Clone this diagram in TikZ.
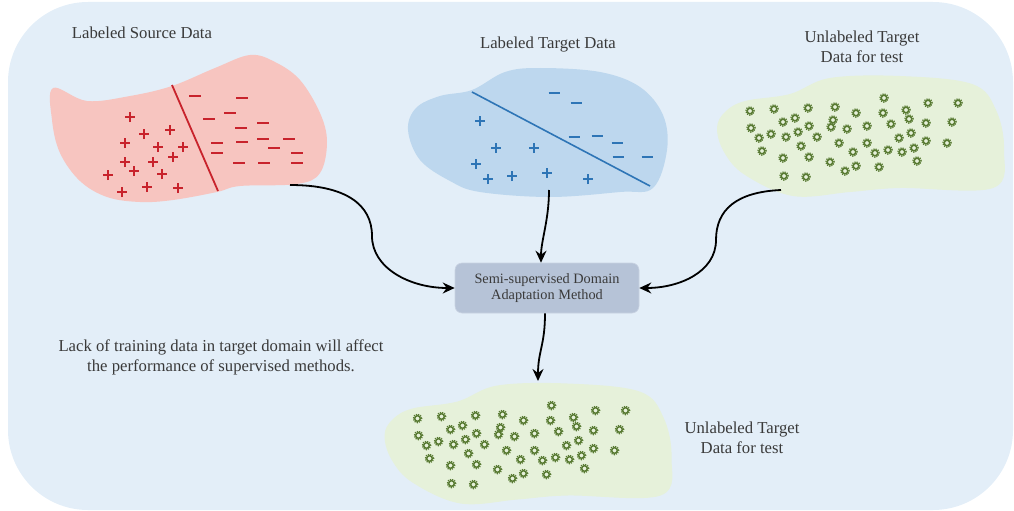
\documentclass[tikz,border=0pt]{standalone}
\usepackage{fontspec}
\setmainfont{Liberation Serif}
\usetikzlibrary{arrows.meta}

\definecolor{bgblue}{HTML}{E3EEF8}
\definecolor{srcfill}{HTML}{F7C5C0}
\definecolor{srcmark}{HTML}{C8232C}
\definecolor{tgtfill}{HTML}{BDD7EE}
\definecolor{tgtmark}{HTML}{2E75B6}
\definecolor{unlfill}{HTML}{E6F1DA}
\definecolor{gearcol}{HTML}{587A32}
\definecolor{boxfill}{HTML}{B6C3D7}
\definecolor{boxline}{HTML}{C9D3E2}
\definecolor{txtcol}{HTML}{3A3A3A}

% positions of the unlabeled samples (shared by both green clouds)
\newcommand\gearpoints{(750,111),(774,109),(808,108),(835,107),(884,98),(928,103),(958,103),%
(856,113),(883,113),(906,110),(783,122),(795,118),(833,120),(909,119),(926,123),(952,122),%
(751,128),(809,126),(831,127),(847,129),(867,126),(891,124),(759,138),(771,134),(786,137),%
(798,132),(817,137),(899,138),(911,133),(762,151),(801,146),(839,143),(867,143),(926,141),%
(947,143),(783,158),(809,157),(853,152),(875,153),(888,150),(902,152),(914,148),(830,162),%
(917,161),(845,171),(856,166),(879,167),(784,176),(806,177)}

\tikzset{
  lbl/.style={text=txtcol, align=center, font=\fontsize{16.7}{20}\selectfont, inner sep=0pt},
  methodbox/.style={fill=boxfill, draw=boxline, line width=0.6pt, rounded corners=7pt,
    minimum width=184pt, minimum height=50pt, align=center, text=txtcol,
    font=\fontsize{14.3}{16}\selectfont},
  arr/.style={draw=black, line width=1.8pt,
    -{Stealth[length=12pt, width=11pt, inset=4pt]}},
  srcplus/.pic={\draw[srcmark, line width=1.9pt] (-5pt,0)--(5pt,0) (0,-5pt)--(0,5pt);},
  srcminus/.pic={\draw[srcmark, line width=1.9pt] (-6pt,0)--(6pt,0);},
  tgtplus/.pic={\draw[tgtmark, line width=1.7pt] (-5pt,0)--(5pt,0) (0,-5pt)--(0,5pt);},
  tgtminus/.pic={\draw[tgtmark, line width=1.7pt] (-5.5pt,0)--(5.5pt,0);},
  gearpic/.pic={
    \draw[gearcol, line width=1.5pt] (0,0) circle (2.8pt);
    \draw[gearcol, line width=1.3pt, dash pattern=on 1.2pt off 1.1pt] (0,0) circle (4.2pt);
  },
}

\begin{document}
\begin{tikzpicture}[x=1pt, y=-1pt]
\useasboundingbox (0,0) rectangle (1014,511);

% panel
\fill[bgblue, rounded corners=80pt] (8,2) rectangle (1013,510);

% labeled source cloud
\fill[srcfill] plot[smooth cycle, tension=0.6] coordinates {
  (53,88) (87,101) (130,96) (172,86) (215,68) (250,55) (275,62) (300,80)
  (320,113) (327,142) (320,173) (297,184) (240,186) (217,192) (173,200)
  (140,202) (107,197) (80,181) (60,153) (52,120)};
\draw[srcmark, line width=1.8pt] (172,85) -- (218,191);
\foreach \p in {(130,117),(144,134),(170,130),(125,143),(158,147),(183,147),(173,157),%
  (125,162),(153,162),(134,171),(162,174),(108,175),(122,192),(147,187),(178,188)}
  \pic at \p {srcplus};
\foreach \p in {(195,96),(242,98),(230,113),(209,119),(241,128),(263,123),(242,142),%
  (263,139),(289,139),(274,148),(217,143),(217,153),(297,153),(239,163),(264,163),(297,163)}
  \pic at \p {srcminus};

% labeled target cloud
\fill[tgtfill] plot[smooth cycle, tension=0.6] coordinates {
  (408,130) (420,160) (450,181) (480,192) (550,197) (620,192) (653,188)
  (667,150) (663,115) (640,87) (600,72) (540,68) (505,72) (472,90) (440,96) (416,108)};
\draw[tgtmark, line width=1.6pt] (472,92) -- (650,186);
\foreach \p in {(480,121),(496,148),(534,148),(476,164),(488,179),(512,176),(547,173),(588,179)}
  \pic at \p {tgtplus};
\foreach \p in {(554,93),(576,103),(574,137),(597,136),(617,143),(618,157),(647,157)}
  \pic at \p {tgtminus};

% unlabeled target clouds (test data, top and bottom)
\foreach \dx/\dy in {0/0,-332.5/307.5}{
  \begin{scope}[shift={(\dx,\dy)}]
    \fill[unlfill] plot[smooth cycle, tension=0.6] coordinates {
      (717,128) (724,152) (745,175) (793,196) (850,192) (900,188) (993,188)
      (1004,150) (996,110) (972,84) (900,76) (830,78) (790,94) (745,101) (725,112)};
    \foreach \p in \gearpoints {\pic at \p {gearpic};}
  \end{scope}
}

% texts
\node[lbl] (srclbl) at (142,33) {Labeled Source Data};
\node[lbl] (tgtlbl) at (548,45) {Labeled Target Data};
\node[lbl] (unltop) at (862,47) {Unlabeled Target\\Data for test};
\node[lbl] (note) at (221,357) {Lack of training data in target domain will affect\\the performance of supervised methods.};
\node[lbl] (unlbot) at (742,438) {Unlabeled Target\\Data for test};

% method
\node[methodbox] (method) at (547,288) {Semi-supervised Domain\\Adaptation Method};

% connector anchors
\coordinate (srcout) at (290,185);
\coordinate (bendsrc) at (372,236);
\coordinate (tgtout) at (549,190);
\coordinate (unlout) at (781,190);
\coordinate (bendunl) at (716,240);
\coordinate (botin) at (538,381);

% connectors
\draw[arr] (srcout) .. controls +(55,0) and +(0,-32) .. (bendsrc)
  .. controls +(0,32) and +(-45,0) .. (method.west);
\draw[arr] (tgtout) .. controls +(0,30) and +(0,-22) .. ([xshift=-6pt]method.north);
\draw[arr] (unlout) .. controls +(-45,2) and +(0,-30) .. (bendunl)
  .. controls +(0,32) and +(40,0) .. (method.east);
\draw[arr] ([xshift=-2pt]method.south) .. controls +(0,32) and +(0,-30) .. (botin);
\end{tikzpicture}
\end{document}
